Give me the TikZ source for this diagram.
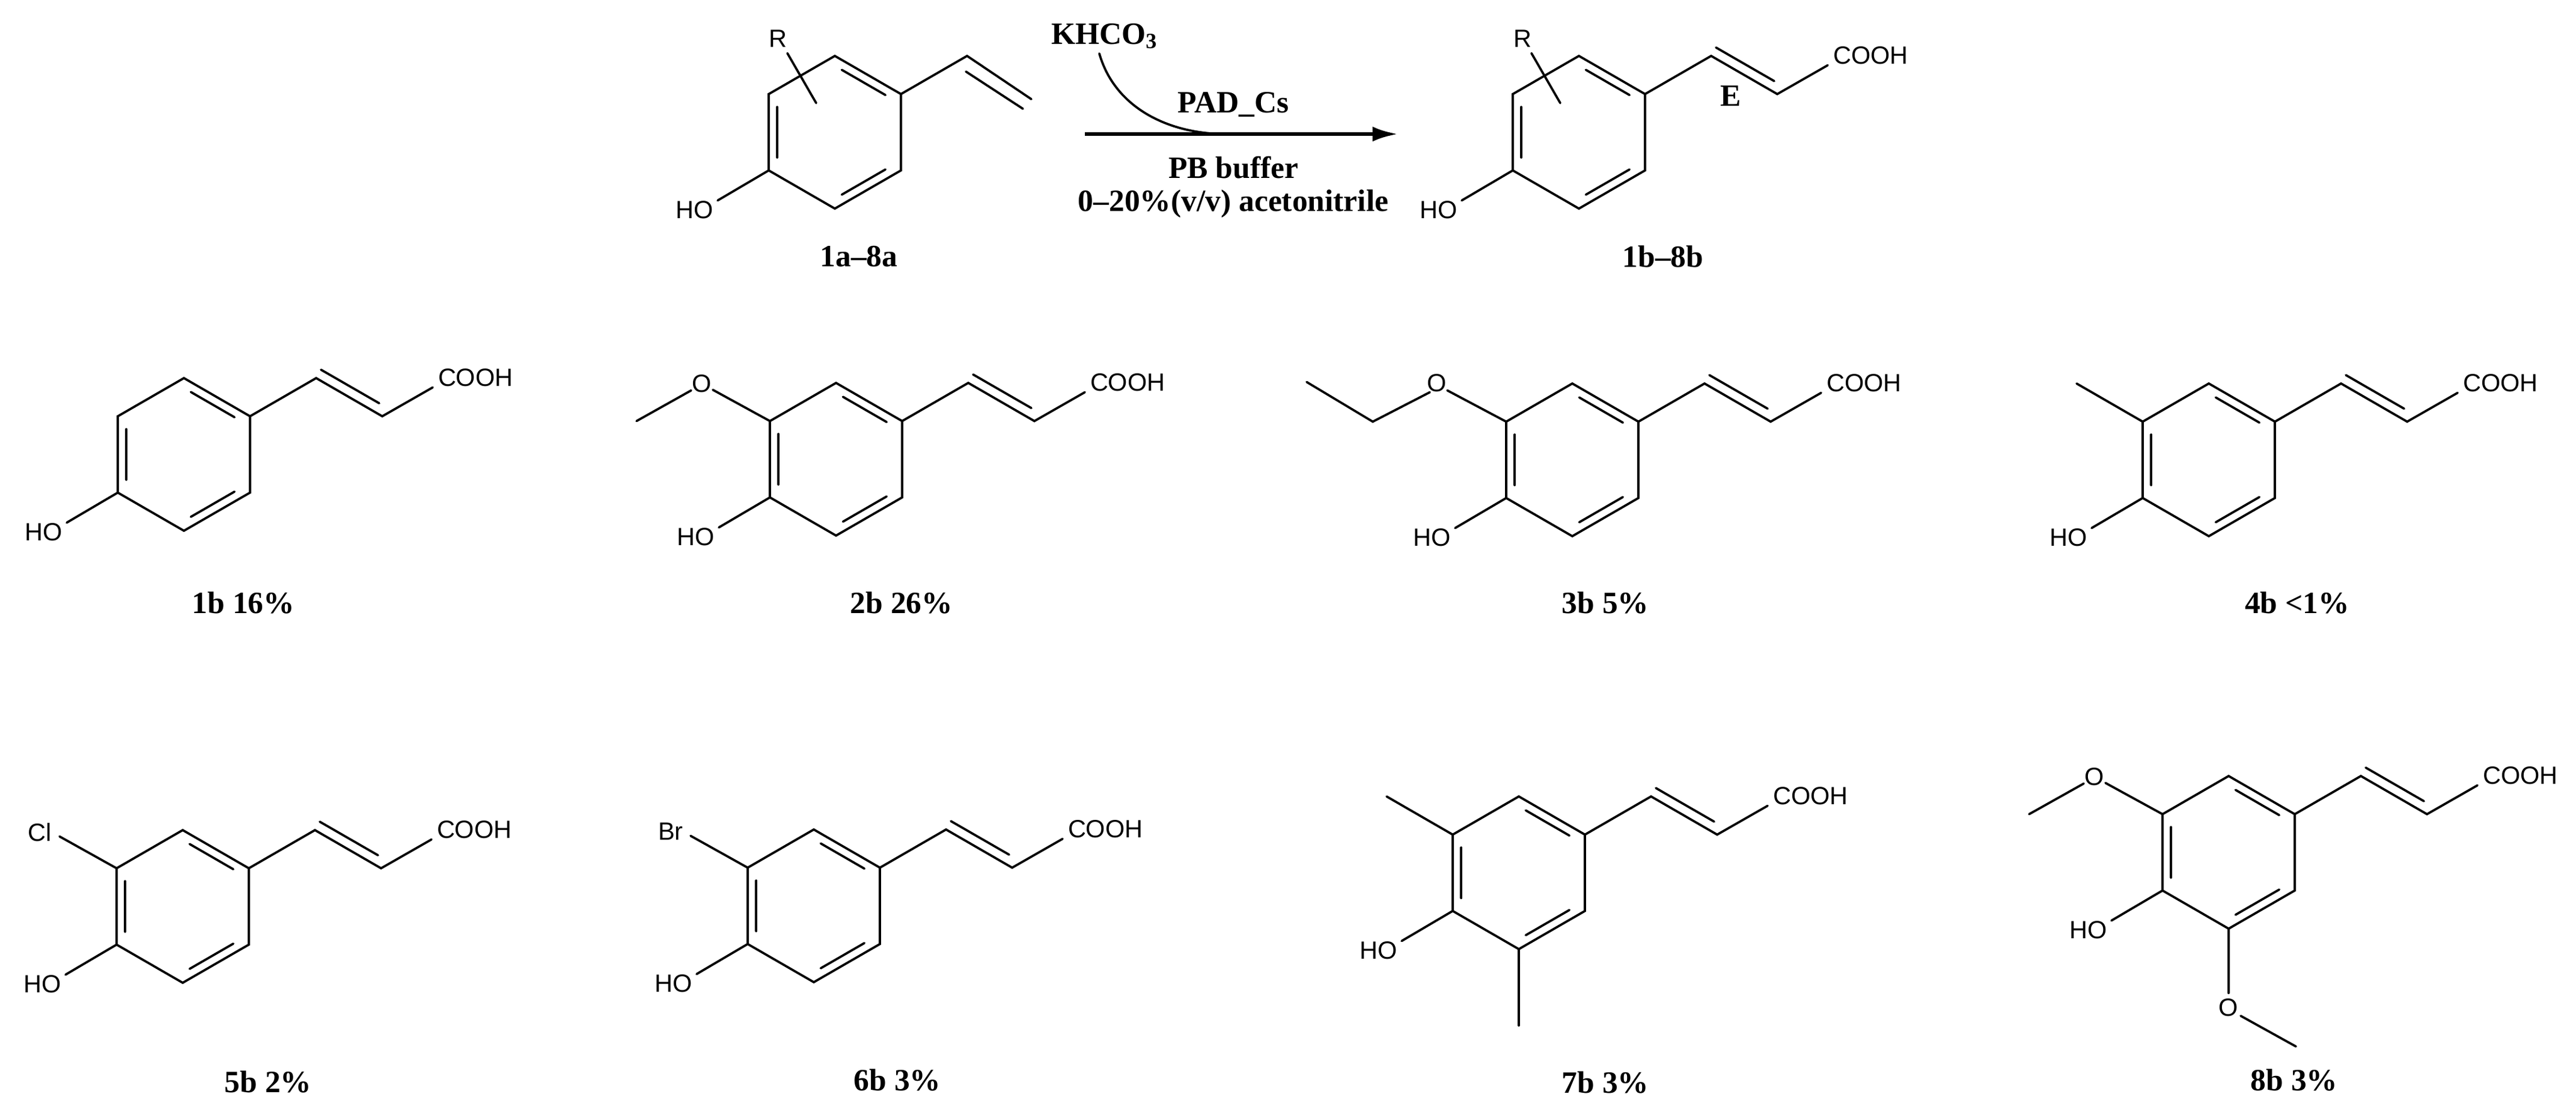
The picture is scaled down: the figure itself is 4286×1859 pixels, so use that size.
\documentclass[tikz,border=0pt]{standalone}
\usepackage{fontspec}
\setmainfont{Liberation Serif}
\newfontfamily\atomfam{Liberation Sans}
\usetikzlibrary{calc,arrows.meta}
\newcommand\atomfont{\atomfam\fontsize{8.3}{9}\selectfont}
\newcommand\labfont{\bfseries\fontsize{10.3}{12}\selectfont}
\tikzset{
  bond/.style={line width=0.75pt, line cap=round},
  atom/.style={font=\atomfont, inner sep=0pt},
  lab/.style={font=\labfont, inner sep=0pt},
}
\newcommand\mydbl[3]{\draw[bond] ($(#1-i#2)!0.12!(#1-i#3)$) -- ($(#1-i#3)!0.12!(#1-i#2)$);}
\newcommand\mybenz[3]{%
  \coordinate (#1) at (#2,#3);
  \coordinate (#1-1) at ($(#1)+(0,-127)$);
  \coordinate (#1-2) at ($(#1)+(110,-63.5)$);
  \coordinate (#1-3) at ($(#1)+(110,63.5)$);
  \coordinate (#1-4) at ($(#1)+(0,127)$);
  \coordinate (#1-5) at ($(#1)+(-110,63.5)$);
  \coordinate (#1-6) at ($(#1)+(-110,-63.5)$);
  \foreach \k in {1,...,6}{\coordinate (#1-i\k) at ($(#1)!0.87!(#1-\k)$);}
  \draw[bond] (#1-1)--(#1-2)--(#1-3)--(#1-4)--(#1-5)--(#1-6)--cycle;
  \mydbl{#1}{1}{2}\mydbl{#1}{3}{4}\mydbl{#1}{5}{6}
  \draw[bond] (#1-5)--($(#1-5)+(-85,50)$);
  \node[atom] (#1-HO) at ($(#1-5)+(-123,66)$) {HO};
}
\newcommand\mycinn[1]{%
  \coordinate (#1-c1) at ($(#1-2)+(110,-63.5)$);
  \coordinate (#1-c2) at ($(#1-c1)+(110,63.5)$);
  \draw[bond] (#1-2)--(#1-c1)--(#1-c2)--($(#1-c2)+(84,-48)$);
  \draw[bond] ($(#1-c1)+(8,-14)$)--($(#1-c2)+(-5,-21.6)$);
  \node[atom,anchor=west] (#1-COOH) at ($(#1-c2)+(92,-64)$) {COOH};
}
\newcommand\myome[1]{% methoxy at vertex 6
  \node[atom] (#1-O) at ($(#1-6)+(-113,-62)$) {O};
  \draw[bond] (#1-6)--($(#1-O)+(18,10)$);
  \draw[bond] ($(#1-O)+(-18,11)$)--($(#1-6)+(-222,0)$);
}
\begin{document}
\begin{tikzpicture}[x=0.2pt,y=-0.2pt]
\useasboundingbox (0,0) rectangle (4286,1859);
% ---- top reaction ----
\mybenz{ra}{1389}{220}
\coordinate (ra-c1) at ($(ra-2)+(110,-63.5)$);
\coordinate (ra-c2) at ($(ra-c1)+(107,72)$);
\draw[bond] (ra-2)--(ra-c1)--(ra-c2);
\draw[bond] ($(ra-c1)+(-2,26)$)--($(ra-c2)+(-14,16)$);
\node[atom] (ra-R) at ($(ra-6)+(15,-92)$) {R};
\draw[bond] ($(ra-6)+(31,-68)$)--($(ra-6)+(79,15)$);
\node[lab] (la) at (1429,427) {1a--8a};

\mybenz{pr}{2627}{220}
\mycinn{pr}
\node[atom] (pr-R) at ($(pr-6)+(16,-92)$) {R};
\draw[bond] ($(pr-6)+(31,-68)$)--($(pr-6)+(79,15)$);
\node[lab] (E) at (2880,160) {E};
\node[lab] (lb) at (2767,427) {1b--8b};

\coordinate (arS) at (1805,223);
\coordinate (arE) at (2326,223);
\draw[line width=1.3pt,-{Latex[length=8.5pt,width=5pt]}] (arS)--(arE);
\node[lab] (k) at (1838,60) {KHCO$_\mathbf{3}$};
\coordinate (kend) at (2040,223);
\draw[bond] (1829,89) .. controls (1855,180) and (1945,223) .. (kend);
\node[lab] (pad) at (2052,174) {PAD\_Cs};
\node[lab] (pb) at (2052,279) {PB buffer};
\node[lab] (ac) at (2052,339) {0--20\%(v/v) acetonitrile};

% ---- row 1 ----
\mybenz{m1}{306}{756}\mycinn{m1}
\node[lab] at (405,1003) {1b 16\%};

\mybenz{m2}{1391}{764}\mycinn{m2}\myome{m2}
\node[lab] at (1500,1003) {2b 26\%};

\mybenz{m3}{2616}{765}\mycinn{m3}
\node[atom] (m3-O) at ($(m3-6)+(-115,-64)$) {O};
\draw[bond] (m3-6)--($(m3-O)+(17,12)$);
\draw[bond] ($(m3-O)+(-12,15)$)--($(m3-6)+(-222,0)$)--($(m3-6)+(-332,-66)$);
\node[lab] at (2671,1003) {3b 5\%};

\mybenz{m4}{3675}{765}\mycinn{m4}
\draw[bond] (m4-6)--($(m4-6)+(-110,-63.5)$);
\node[lab] at (3822,1003) {4b <1\%};

% ---- row 2 ----
\mybenz{m5}{304}{1508}\mycinn{m5}
\node[atom] (m5-Cl) at ($(m5-6)+(-128,-60)$) {Cl};
\draw[bond] (m5-6)--($(m5-6)+(-95,-53)$);
\node[lab] at (446,1800) {5b 2\%};

\mybenz{m6}{1354}{1507}\mycinn{m6}
\node[atom] (m6-Br) at ($(m6-6)+(-128,-60)$) {Br};
\draw[bond] (m6-6)--($(m6-6)+(-95,-53)$);
\node[lab] at (1493,1797) {6b 3\%};

\mybenz{m7}{2527}{1452}\mycinn{m7}
\draw[bond] (m7-6)--($(m7-6)+(-110,-63.5)$);
\draw[bond] (m7-4)--($(m7-4)+(0,127)$);
\node[lab] at (2671,1801) {7b 3\%};

\mybenz{m8}{3708}{1418}\mycinn{m8}\myome{m8}
\node[atom] (m8-O2) at ($(m8-4)+(0,131)$) {O};
\draw[bond] (m8-4)--($(m8-4)+(0,107)$);
\draw[bond] ($(m8-O2)+(20,14)$)--($(m8-O2)+(112,65)$);
\node[lab] at (3817,1797) {8b 3\%};
\end{tikzpicture}
\end{document}
